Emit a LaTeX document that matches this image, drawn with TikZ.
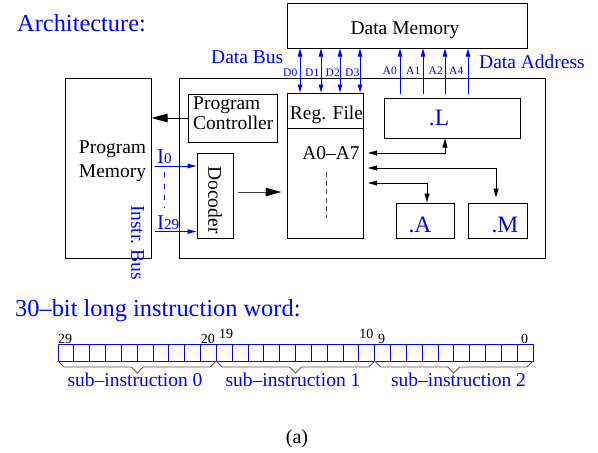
\documentclass[tikz,border=0pt]{standalone}
\usepackage{fontspec}
\setmainfont{Liberation Serif}
\usetikzlibrary{arrows.meta,calc}

\tikzset{
  unit/.style={draw=black, line width=1pt, inner sep=0pt},
  txt/.style={font=\fontsize{19.5}{20}\selectfont, inner sep=0pt},
  btxt/.style={txt, text=blue},
  heading/.style={font=\fontsize{24.4}{26}\selectfont, text=blue, inner sep=0pt},
  pin/.style={font=\fontsize{11.5}{12}\selectfont, text=blue, inner sep=0pt},
  bitno/.style={font=\fontsize{14}{14}\selectfont, inner sep=0pt},
  fu/.style={font=\fontsize{23.5}{24}\selectfont, text=blue, inner sep=0pt},
  busline/.style={draw=blue, line width=0.9pt},
  bushead/.tip={Triangle[length=8pt,width=4.5pt]},
  sighead/.tip={Triangle[length=9pt,width=5pt]},
  bighead/.tip={Triangle[length=16pt,width=8.5pt]},
  inhead/.tip={Triangle[length=9pt,width=4.5pt]},
  wire/.style={draw=black, line width=0.9pt},
  bitcell/.style={draw=blue, line width=0.9pt},
  fieldbrace/.style={draw=black!65, line width=0.9pt, line join=miter},
}

\begin{document}
\begin{tikzpicture}[x=1pt,y=-1pt]
\useasboundingbox (0,0) rectangle (598,453);

% ---------------- architecture ----------------
\node[heading, anchor=base west] (arch) at (17,31.5) {Architecture:};

% data memory and its buses
\node[unit, minimum width=240pt, minimum height=45pt] (dmem) at (407,25.5) {};
\node[txt, anchor=base] (dmemtxt) at (405,34) {Data Memory};
\node[btxt, anchor=base west] (databus) at (211,63) {Data Bus};
\node[btxt, anchor=base west] (dataaddr) at (479,68.5) {Data Address};

% processor outline
\node[unit, minimum width=366pt, minimum height=180pt] (proc) at (362,168) {};

% program memory
\node[unit, minimum width=86pt, minimum height=180pt] (pmem) at (108,168) {};
\node[txt, anchor=north, align=center, font=\fontsize{19.5}{24}\selectfont] (pmemtxt) at (112.5,141) {Program\\Memory};

% program controller
\node[unit, minimum width=89pt, minimum height=48pt] (pctrl) at (232.5,118) {};
\node[txt, anchor=north west, align=left, font=\fontsize{19.5}{19.5}\selectfont] (pctrltxt) at (193,96.7) {Program\\Controller};

% register file
\node[unit, minimum width=76pt, minimum height=145pt] (regfile) at (325,165.5) {};
\coordinate (rfdivl) at (287,128);
\coordinate (rfdivr) at (363,128);
\draw[wire] (rfdivl) -- (rfdivr);
\node[txt, anchor=base] (rftitle) at (326.5,119) {Reg. File};
\node[txt, anchor=base] (rfregs) at (331,159) {A0--A7};
\coordinate (rfdota) at (326,172);
\coordinate (rfdotb) at (326,218);
\draw[draw=black!70, line width=1pt, dash pattern=on 5pt off 3.5pt] (rfdota) -- (rfdotb);

% decoder
\node[unit, minimum width=36pt, minimum height=85pt] (dec) at (215,195.5) {};
\node[txt, rotate=-90] (dectxt) at (215,200) {Docoder};

% functional units
\node[unit, minimum width=136pt, minimum height=40pt] (Lunit) at (452,118) {};
\node[fu, anchor=base] (Ltxt) at (439,125.5) {.L};
\node[unit, minimum width=58pt, minimum height=35pt] (Aunit) at (425,220.5) {};
\node[fu, anchor=base] (Atxt) at (420,232) {.A};
\node[unit, minimum width=59pt, minimum height=35pt] (Munit) at (497.5,220.5) {};
\node[fu, anchor=base] (Mtxt) at (505,232) {.M};

% data bus D0..D3 (bidirectional)
\foreach \x/\n/\lx in {300/0/297.5, 321/1/319.5, 340/2/340, 360/3/359.5} {
  \draw[busline, bushead-bushead] (dmem.south -| \x,0) -- (regfile.north -| \x,0);
  \node[pin, anchor=base east] (d\n) at (\lx,76) {D\n};
}

% address bus A0 A1 A2 A4
\foreach \x/\n/\lx in {400/0/397, 423/1/420.5, 445/2/443, 468/4/463.5} {
  \draw[busline, -bushead] ($(Lunit.north -| \x,0)+(0,-4)$) -- (dmem.south -| \x,0);
  \node[pin, anchor=base east] (a\n) at (\lx,74) {A\n};
}

% program controller to program memory
\draw[wire, -bighead] (pctrl.west) -- (pctrl.west -| pmem.east);

% decoder to register file
\draw[draw=black!75, line width=1pt, -{bighead[fill=black,color=black]}]
  ($(dec.east)+(4,-3.5)$) -- ($(regfile.west |- dec.east)+(-5,-3.5)$);

% instruction bus I0 .. I29
\coordinate (ifirst) at (155,166);
\coordinate (ilast) at (155,231.5);
\draw[busline, -inhead] (ifirst) -- (ifirst -| dec.west);
\draw[busline, -inhead] (ilast) -- (ilast -| dec.west);
\node[text=blue, inner sep=0pt, anchor=base west, font=\fontsize{21}{21}\selectfont] (ilbl0) at (157,163)
  {I\fontsize{15}{15}\selectfont 0};
\node[text=blue, inner sep=0pt, anchor=base west, font=\fontsize{21}{21}\selectfont] (ilbl29) at (157,229)
  {I\fontsize{15}{15}\selectfont 29};
\coordinate (idota) at (164,172);
\coordinate (idotb) at (164,207);
\draw[draw=blue, line width=1pt, dash pattern=on 5pt off 6.5pt] (idota) -- (idotb);
\node[btxt, rotate=-90] (ibus) at (137.5,242.5) {Instr.\ Bus};

% register file <-> functional units
\coordinate (rfp1) at (368,153);
\coordinate (rfp2) at (368,168);
\coordinate (rfp3) at (368,183);
\draw[wire, sighead-sighead] (rfp1) -| ([xshift=-7pt]Lunit.south);
\draw[wire, sighead-sighead] (rfp2) -| ([xshift=-1.5pt,yshift=5pt]Munit.north);
\draw[wire, sighead-sighead] (rfp3) -| ([xshift=2pt]Aunit.north);

% ---------------- instruction word ----------------
\node[heading, anchor=base west] (iword) at (15,316) {30--bit long instruction word:};

\foreach \i in {0,...,29}
  \draw[bitcell] ({58+\i*15.833},344) rectangle ++(15.833,17);

\node[bitno, anchor=base west] (b29) at (58,343) {29};
\node[bitno, anchor=base east] (b20) at (215,343) {20};
\node[bitno, anchor=base west] (b19) at (219,338) {19};
\node[bitno, anchor=base east] (b10) at (373.5,338) {10};
\node[bitno, anchor=base west] (b9) at (378,343) {9};
\node[bitno, anchor=base west] (b0) at (521,343) {0};

\foreach \a/\b in {58/216.33, 216.33/374.67, 374.67/533} {
  \draw[fieldbrace] (\a,361) -- ++(6,6) -- ({(\a+\b)/2-6},367) -- ({(\a+\b)/2},373)
    -- ++(6,-6) -- ({\b-6},367) -- (\b,361);
}

\node[btxt, anchor=base] (sub0) at (135,386) {sub--instruction 0};
\node[btxt, anchor=base] (sub1) at (293,386) {sub--instruction 1};
\node[btxt, anchor=base] (sub2) at (458.5,386) {sub--instruction 2};

\node[inner sep=0pt, anchor=base, font=\fontsize{20}{20}\selectfont] (caption) at (297,443.5) {(a)};
\end{tikzpicture}
\end{document}
